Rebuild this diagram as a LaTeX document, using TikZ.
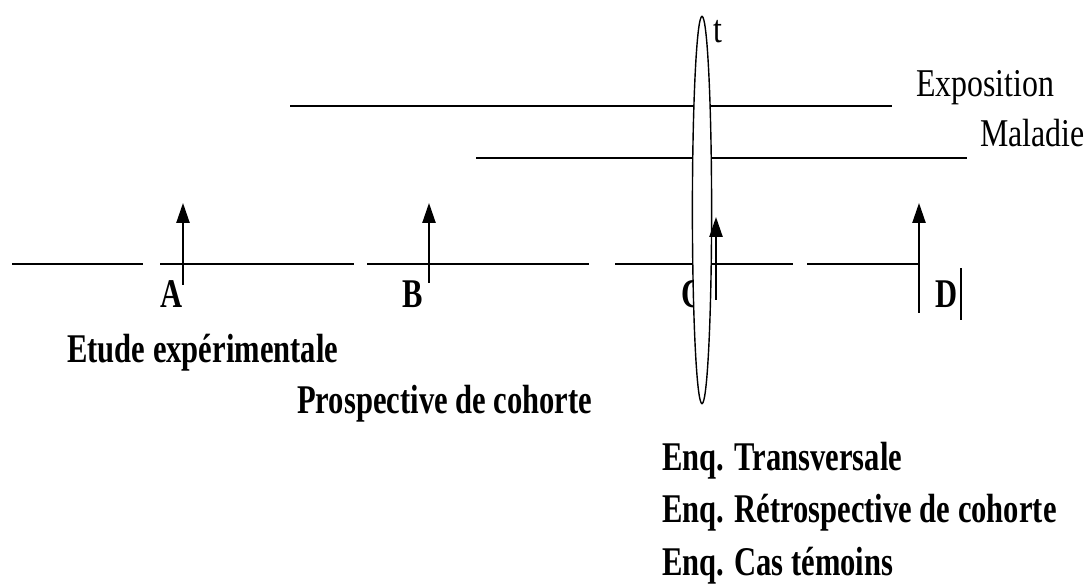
\documentclass[tikz,border=0pt]{standalone}
\usepackage{fontspec}
\setmainfont{Liberation Serif}
\usepackage{graphicx}
\usepackage{tikz}
\usetikzlibrary{arrows.meta,shapes.geometric}
\newcommand{\narrowbf}[1]{\scalebox{0.75}[1]{#1}}
\newcommand{\narrowrm}[1]{\scalebox{0.81}[1]{#1}}

\begin{document}
\begin{tikzpicture}[
  axis/.style={line width=1.4pt},
  marker/.style={line width=1.3pt, -{Triangle[length=0.5cm,width=0.33cm]}},
  lbl/.style={font=\fontsize{29}{35}\selectfont\bfseries, inner sep=0pt},
  tag/.style={font=\fontsize{28}{34}\selectfont, inner sep=0pt},
  cut/.style={draw, ellipse, line width=1pt, fill=white, inner sep=0pt, minimum width=0.48cm, minimum height=9.68cm}
]
\useasboundingbox (0,0) rectangle (27.15,14.625);

\draw[axis] (7.25,11.975) -- (22.3,11.975);
\draw[axis] (11.9,10.675) -- (24.175,10.675);
\foreach \a/\b in {0.3/3.575, 4.0/8.85, 9.175/14.725, 15.375/19.825, 20.175/22.975}
  \draw[axis] (\a,8.025) -- (\b,8.025);

\draw[marker] (4.575,7.5) -- (4.575,9.55);
\draw[marker] (10.725,7.55) -- (10.725,9.55);
\draw[marker] (22.975,6.8) -- (22.975,9.55);

\node[lbl, anchor=base] (labA) at (4.3,6.925) {\narrowbf{A}};
\node[lbl, anchor=base] (labB) at (10.325,6.925) {\narrowbf{B}};
\node[lbl, anchor=base] (labC) at (17.325,6.925) {\narrowbf{C}};
\node[lbl, anchor=base] (labD) at (23.675,6.925) {\narrowbf{D}};
\draw[line width=1.5pt] (24.025,6.625) -- (24.025,7.925);

\node[cut] (tcut) at (17.55,9.375) {};
\draw[marker] (17.9,7.125) -- (17.9,9.2);
\node[tag, anchor=base] (tlabel) at (17.95,13.55) {\narrowrm{t}};

\node[tag, anchor=base west] (expo) at (22.9,12.2) {\narrowrm{Exposition}};
\node[tag, anchor=base west] (mala) at (24.5,10.95) {\narrowrm{Maladie}};

\node[lbl, anchor=base west] (etude) at (1.675,5.575) {\narrowbf{Etude expérimentale}};
\node[lbl, anchor=base west] (prosp) at (7.425,4.3) {\narrowbf{Prospective de cohorte}};
\node[lbl, anchor=base west] (enqT) at (16.55,2.875) {\narrowbf{Enq. Transversale}};
\node[lbl, anchor=base west] (enqR) at (16.55,1.575) {\narrowbf{Enq. Rétrospective de cohorte}};
\node[lbl, anchor=base west] (enqC) at (16.55,0.25) {\narrowbf{Enq. Cas témoins}};
\end{tikzpicture}
\end{document}
